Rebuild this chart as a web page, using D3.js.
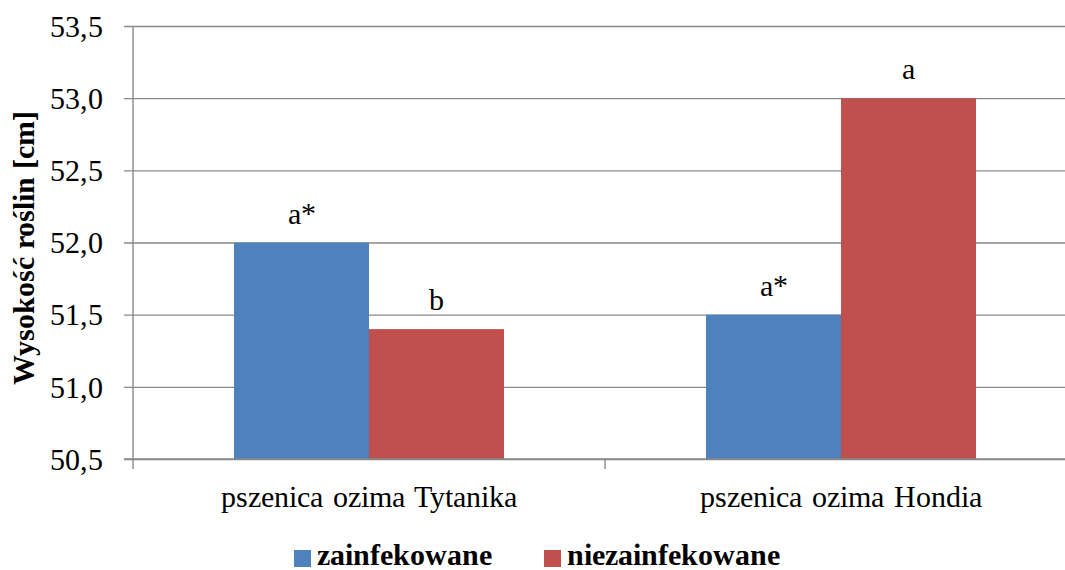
<!DOCTYPE html>
<html>
<head>
<meta charset="utf-8">
<script src="https://cdn.jsdelivr.net/npm/d3@7/dist/d3.min.js"></script>
<style>
  @font-face { font-family: "ChartSerif"; font-weight: 400;
    src: local("Liberation Serif"), local("LiberationSerif"), local("Times New Roman"); }
  @font-face { font-family: "ChartSerif"; font-weight: 700;
    src: local("Liberation Serif Bold"), local("LiberationSerif-Bold"), local("Times New Roman Bold"); }
</style>
</head>
<body style="margin:0;background:#fff">
<svg id="fig" width="1065" height="570" style="display:block"></svg>
<script>
// Plant height by cultivar and infection status
const categories = ["pszenica ozima Tytanika", "pszenica ozima Hondia"];
const seriesNames = ["zainfekowane", "niezainfekowane"];
const seriesColors = ["#4F81BD", "#C0504D"];
const zainfekowane = [52.0, 51.5];
const niezainfekowane = [51.4, 53.0];
const letters = [["a*", "a*"], ["b", "a"]];
const yTicks = [50.5, 51.0, 51.5, 52.0, 52.5, 53.0, 53.5];
const yTitle = "Wysokość roślin [cm]";

const values = [zainfekowane, niezainfekowane];
const FONT = "ChartSerif, 'Liberation Serif', 'Times New Roman', serif";
const serif = sel => sel.attr("font-family", FONT).style("font-family", FONT);

const svg = d3.select("#fig");
const plot = { left: 133, right: 1077, top: 26, bottom: 459 };

const y = d3.scaleLinear().domain([50.5, 53.5]).range([plot.bottom, plot.top]);
const x0 = d3.scaleBand().domain(categories).range([plot.left, plot.right]).padding(0);
const groupGap = 0.428;
const x1 = d3.scaleBand().domain(seriesNames)
  .range([x0.bandwidth() * groupGap / 2, x0.bandwidth() * (1 - groupGap / 2)]).padding(0);

const gridColor = "#898989";
const fmt = v => d3.format(".1f")(v).replace(".", ",");

// horizontal gridlines with left tick stubs
const yAxis = d3.axisLeft(y).tickValues(yTicks).tickFormat(fmt)
  .tickSize(-(plot.right - plot.left)).tickPadding(30);
const gy = svg.append("g").attr("transform", `translate(${plot.left},0)`).call(yAxis);
serif(gy);
gy.select(".domain").remove();
gy.selectAll(".tick line").attr("x1", -9).attr("stroke", gridColor).attr("stroke-width", 1.4);
serif(gy.selectAll(".tick text")).attr("x", -30).attr("font-size", 30)
  .attr("fill", "#000").attr("dy", "0.34em");

// bars with significance letters
const barData = (c, i) => seriesNames.map((s, j) => ({ s, j, v: values[j][i], l: letters[j][i] }));
const groups = svg.append("g").selectAll("g").data(categories).join("g")
  .attr("transform", d => `translate(${x0(d)},0)`);
groups.selectAll("rect").data(barData).join("rect")
  .attr("x", d => x1(d.s))
  .attr("y", d => y(d.v))
  .attr("width", x1.bandwidth())
  .attr("height", d => y(50.5) - y(d.v))
  .attr("fill", d => seriesColors[d.j]);
serif(groups.selectAll("text.lbl").data(barData).join("text").attr("class", "lbl"))
  .attr("x", d => x1(d.s) + x1.bandwidth() / 2)
  .attr("y", d => y(d.v) - 19)
  .attr("text-anchor", "middle")
  .attr("font-size", 30)
  .text(d => d.l);

// category axis
const xAxis = d3.axisBottom(x0).tickSize(0).tickPadding(27);
const gx = svg.append("g").attr("transform", `translate(0,${plot.bottom})`).call(xAxis);
serif(gx);
gx.select(".domain").remove();
serif(gx.selectAll(".tick text")).attr("font-size", 30).attr("fill", "#000")
  .attr("dy", "0.71em").style("word-spacing", "2px");
svg.append("line").attr("x1", plot.left - 9).attr("x2", plot.right)
  .attr("y1", plot.bottom).attr("y2", plot.bottom).attr("stroke", gridColor).attr("stroke-width", 1.4);
svg.append("line").attr("x1", plot.left).attr("x2", plot.left)
  .attr("y1", plot.top).attr("y2", plot.bottom + 10).attr("stroke", gridColor).attr("stroke-width", 1.4);
const bounds = [plot.left + x0.bandwidth(), plot.right];
svg.selectAll("line.sep").data(bounds).join("line").attr("class", "sep")
  .attr("x1", d => d).attr("x2", d => d)
  .attr("y1", plot.bottom).attr("y2", plot.bottom + 10)
  .attr("stroke", gridColor).attr("stroke-width", 1.4);

// y title
serif(svg.append("text"))
  .attr("transform", "translate(34,248) rotate(-90)")
  .attr("text-anchor", "middle")
  .attr("font-size", 30).attr("font-weight", "bold")
  .text(yTitle);

// legend
const legend = svg.append("g").attr("transform", "translate(294,550)");
const items = legend.selectAll("g").data(seriesNames).join("g")
  .attr("transform", (d, i) => `translate(${i === 0 ? 0 : 250},0)`);
items.append("rect").attr("width", 17).attr("height", 17).attr("fill", (d, i) => seriesColors[i]);
serif(items.append("text")).attr("x", 23).attr("y", 15)
  .attr("font-size", 30).attr("font-weight", "bold").text(d => d);
</script>
</body>
</html>
